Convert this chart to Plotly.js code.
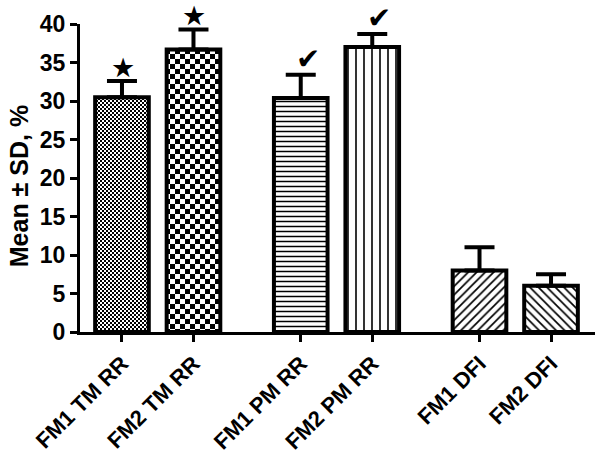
<!DOCTYPE html>
<html><head><meta charset="utf-8">
<script src="https://cdn.plot.ly/plotly-3.0.1.min.js"></script>
<style>html,body{margin:0;padding:0;background:#fff}</style>
</head><body><div id="chart" style="width:600px;height:459px"></div>
<script>
const categories = ['FM1 TM RR','FM2 TM RR','FM1 PM RR','FM2 PM RR','FM1 DFI','FM2 DFI'];
const means = [30.5, 36.7, 30.4, 37.0, 8.0, 6.0];
const sds = [2.1, 2.6, 3.0, 1.7, 3.0, 1.5];
const marks = ['★','★','✔','✔','',''];
const yTicks = [0,5,10,15,20,25,30,35,40];
const yTitle = 'Mean ± SD, %';

// styling (not data)
const patShapes = ['.', '.', '-', '|', '/', '\\'];
const patSizes = [4, 10, 5, 8, 6, 6];
const patSolid = [0.5, 0.5, 0.3, 0.2, 0.28, 0.28];
const checkerSize = {0: 2, 1: 5};   // bar index -> checker square size px
const groupGap = 0.5;

const xpos = categories.map((c, i) => i + groupGap * Math.floor(i / 2));
const FONT = 'Liberation Sans, Arial, sans-serif';

const trace = {
  type: 'bar',
  x: xpos,
  y: means,
  width: 0.75,
  cliponaxis: false,
  marker: {
    color: 'white',
    line: {color: 'black', width: 4},
    pattern: {shape: patShapes, size: patSizes, solidity: patSolid,
              fgcolor: 'black', bgcolor: 'white', fillmode: 'replace'}
  },
  error_y: {type: 'data', symmetric: false, array: sds, arrayminus: sds.map(() => 0),
            color: 'black', thickness: 4, width: 15},
  hoverinfo: 'skip'
};

const annotations = marks.map((m, i) => m ? ({
  x: xpos[i], y: means[i] + sds[i], xref: 'x', yref: 'y',
  text: m, showarrow: false, yanchor: 'bottom',
  xshift: m === '✔' ? 7 : 1, yshift: m === '✔' ? -3 : -4,
  font: {family: 'DejaVu Sans', size: m === '✔' ? 29 : 27, color: 'black'}
}) : null).filter(a => a);

annotations.push({
  xref: 'paper', yref: 'paper', x: -0.118, y: 0.474,
  text: yTitle, textangle: -90, showarrow: false,
  xanchor: 'center', yanchor: 'middle',
  font: {family: FONT, size: 25, weight: 'bold', color: 'black'}
});

const layout = {
  width: 600, height: 459,
  margin: {l: 80, r: 5, t: 24, b: 127},
  paper_bgcolor: 'white', plot_bgcolor: 'white',
  showlegend: false,
  font: {family: FONT, color: 'black'},
  xaxis: {
    range: [-0.587, 6.615], showgrid: false, zeroline: false,
    tickmode: 'array', tickvals: xpos, ticktext: categories,
    tickangle: -45, ticks: 'outside', ticklen: 7, tickwidth: 3, tickcolor: 'black',
    showline: true, linecolor: 'black', linewidth: 3,
    tickfont: {family: FONT, size: 22, weight: 'bold', color: 'black'}
  },
  yaxis: {
    range: [0, 40], showgrid: false, zeroline: false,
    tickmode: 'array', tickvals: yTicks, ticktext: yTicks.map(String),
    ticks: 'outside', ticklen: 7, tickwidth: 3, tickcolor: 'black',
    showline: true, linecolor: 'black', linewidth: 3,
    tickfont: {family: FONT, size: 23, weight: 'bold', color: 'black'}
  },
  annotations: annotations
};

function makeChecker(pat, s) {
  const ns = 'http://www.w3.org/2000/svg';
  pat.setAttribute('width', 2 * s);
  pat.setAttribute('height', 2 * s);
  while (pat.firstChild) pat.removeChild(pat.firstChild);
  const mk = (x, y, w, h, f) => {
    const r = document.createElementNS(ns, 'rect');
    r.setAttribute('x', x); r.setAttribute('y', y);
    r.setAttribute('width', w); r.setAttribute('height', h);
    r.setAttribute('fill', f);
    pat.appendChild(r);
  };
  mk(0, 0, 2 * s, 2 * s, 'white');
  mk(0, 0, s, s, 'black');
  mk(s, s, s, s, 'black');
}

Plotly.newPlot('chart', [trace], layout, {staticPlot: true}).then(gd => {
  const paths = gd.querySelectorAll('.barlayer .point path');
  paths.forEach((p, i) => {
    if (!(i in checkerSize)) return;
    const fill = p.style.fill || p.getAttribute('fill') || '';
    const m = fill.match(/#([^"')]+)/);
    if (!m) return;
    const pat = document.getElementById(m[1]);
    if (pat) makeChecker(pat, checkerSize[i]);
  });
});
</script>
</body></html>
